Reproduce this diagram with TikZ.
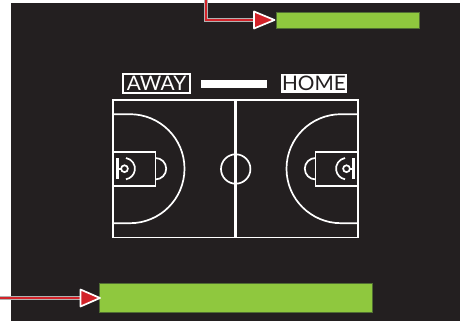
\documentclass[tikz,border=0pt]{standalone}
\usepackage{fontspec}
\setmainfont[FakeStretch=1.04]{Lato}
\usetikzlibrary{arrows.meta}
\definecolor{courtbg}{RGB}{35,31,32}
\definecolor{barfill}{RGB}{143,200,62}
\definecolor{barline}{RGB}{80,110,50}
\definecolor{callred}{RGB}{210,35,42}
\tikzset{
  courtline/.style={draw=white, line width=1.7pt},
  greenbar/.style={draw=barline, line width=0.5pt, fill=barfill, inner sep=0pt, anchor=north west},
  teamlabel/.style={inner sep=0pt, minimum height=19pt, line width=1.6pt, font=\fontsize{20}{20}\selectfont},
  callback/.style={draw=gray!60!white, line width=4.2pt},
  callfront/.style={draw=callred, line width=2.2pt},
  calltip/.style={draw=white, line width=1.7pt, fill=callred, line join=round},
}
\begin{document}
\begin{tikzpicture}[x=1pt, y=-1pt]
    \useasboundingbox (0,0) rectangle (460,321);
    \fill[courtbg] (11,3) rectangle (460,321);
    % bars
    \node[greenbar, minimum width=143pt, minimum height=16pt] (topbar) at (276,11.7) {};
    \node[greenbar, minimum width=273.5pt, minimum height=29.5pt] (bottombar) at (98.5,282.5) {};
    % team labels
    \node[teamlabel, draw=white, text=white, minimum width=66.5pt] (away) at (156.5,83.2) {AWAY};
    \node[teamlabel, fill=white, text=courtbg, minimum width=66pt] (home) at (314,83.2) {HOME};
    \node[fill=white, inner sep=0pt, minimum width=65.5pt, minimum height=8.5pt] (scorebar) at (234.2,83.8) {};
    % court
    \draw[courtline] (113,100) rectangle (358,237.5);
    \draw[courtline, line width=2.6pt] (235.7,100) -- (235.7,237.5);
    \draw[courtline] (235.7,169) circle (14.7);
    \foreach \s/\c in {1/113, -1/358} {
      \begin{scope}[shift={(\c,168.7)}, x=\s pt]
        \draw[courtline] (0,-54.5) -- (17,-54.5) arc[start angle=-90, end angle=90, radius=54.5] -- (0,54.5);
        \draw[courtline] (0,-17) -- (42.5,-17) -- (42.5,17) -- (0,17);
        \draw[courtline] (42.5,-10.7) arc[start angle=-90, end angle=90, radius=10.7];
        \draw[courtline, line width=2.6pt] (4.6,-10.7) -- (4.6,10.7);
        \draw[courtline] (4.6,0) -- (8,0);
        \draw[courtline] (11.5,0) circle (3.4);
        \draw[courtline] (13,-10.7) arc[start angle=-80, end angle=80, radius=10.8];
      \end{scope}
    }
    % callouts
    \coordinate (topstart) at (206,0);
    \coordinate (bottomstart) at (0,298);
    \coordinate (topknee) at (254,20);
    \coordinate (bottomknee) at (80,298);
    \draw[callback] (topstart) |- (topknee);
    \draw[callfront] (topstart) |- (topknee);
    \draw[callback] (bottomstart) -- (bottomknee);
    \draw[callfront] (bottomstart) -- (bottomknee);
    \draw[calltip] (254,11.5) -- (274.5,20) -- (254,28.5) -- cycle;
    \draw[calltip] (80.5,289.5) -- (100,298) -- (80.5,306.5) -- cycle;
  \end{tikzpicture}
\end{document}
